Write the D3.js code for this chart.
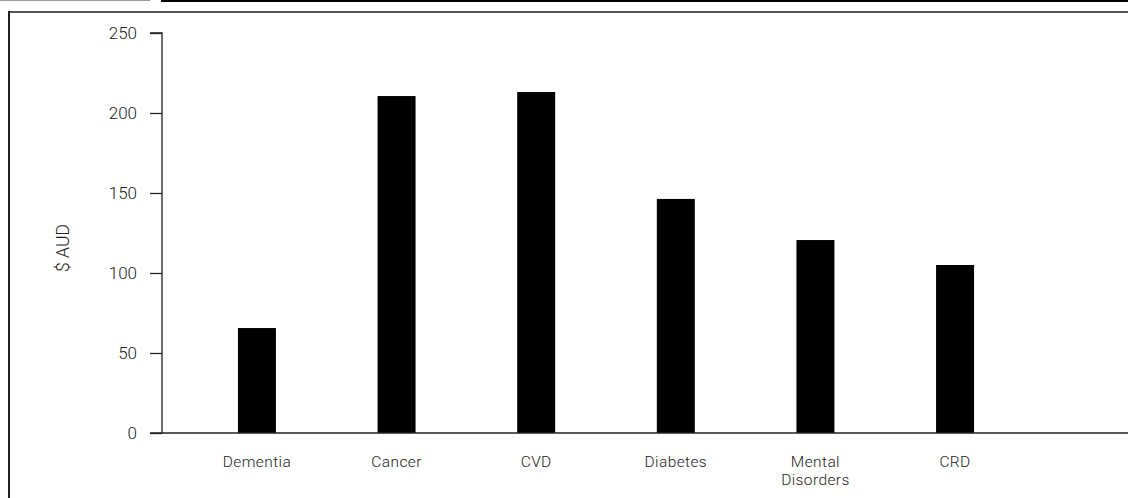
<!DOCTYPE html>
<html>
<head>
<meta charset="utf-8">
<script src="https://cdn.jsdelivr.net/npm/d3@7"></script>
<style>
  html, body { margin: 0; padding: 0; background: #fff; }
  svg { display: block; }
  text { font-family: Roboto, "Liberation Sans", Arial, sans-serif; font-weight: 300; }
</style>
</head>
<body>
<svg id="chart" width="1128" height="498"></svg>
<script>
const categories = ["Dementia", "Cancer", "CVD", "Diabetes", "Mental Disorders", "CRD"];
const categoryLines = [["Dementia"], ["Cancer"], ["CVD"], ["Diabetes"], ["Mental", "Disorders"], ["CRD"]];
const values = [65.6, 210.6, 213.1, 146.3, 120.6, 105.0];
const yTicks = [0, 50, 100, 150, 200, 250];
const yLabel = "$ AUD";

const svg = d3.select("#chart");

// frame decorations
svg.append("rect").attr("x", 0).attr("y", 0).attr("width", 150).attr("height", 1).attr("fill", "#999");
svg.append("rect").attr("x", 161).attr("y", 0).attr("width", 967).attr("height", 2).attr("fill", "#000");
svg.append("rect").attr("x", 8).attr("y", 11).attr("width", 1120).attr("height", 2).attr("fill", "#555");
svg.append("rect").attr("x", 8).attr("y", 11).attr("width", 2).attr("height", 487).attr("fill", "#222");

const x = d3.scaleBand().domain(categories).range([162, 1050]).paddingInner(0.728).paddingOuter(0.544);
const y = d3.scaleLinear().domain([0, 250]).range([433, 33]);

// bars
svg.append("g").selectAll("rect").data(values).join("rect")
  .attr("x", (d, i) => x(categories[i]))
  .attr("width", x.bandwidth())
  .attr("y", d => y(d))
  .attr("height", d => y(0) - y(d))
  .attr("fill", "#000");

// y axis
const yAxis = svg.append("g").attr("transform", "translate(162,0)")
  .call(d3.axisLeft(y).tickValues(yTicks).tickSize(12).tickPadding(13).tickFormat(d3.format("d")));
yAxis.selectAll("path, line").attr("stroke", "#222").attr("stroke-width", 1.3);
yAxis.select(".domain").attr("d", "M0," + y(0) + "V" + y(250) + "H-12");
yAxis.selectAll("text").attr("font-size", 17).attr("fill", "#222")
  .attr("font-family", "Roboto, 'Liberation Sans', Arial, sans-serif").attr("font-weight", 300);

// x axis line
svg.append("line").attr("x1", 150).attr("x2", 1128).attr("y1", y(0)).attr("y2", y(0))
  .attr("stroke", "#222").attr("stroke-width", 1.3);

// x labels
const xl = svg.append("g").selectAll("text").data(categories).join("text")
  .attr("x", d => x(d) + x.bandwidth() / 2)
  .attr("y", 467)
  .attr("text-anchor", "middle")
  .attr("font-size", 15.5)
  .attr("letter-spacing", "0.4px")
  .attr("fill", "#222");
xl.each(function(d, i) {
  const t = d3.select(this);
  categoryLines[i].forEach((line, j) => {
    t.append("tspan").attr("x", x(d) + x.bandwidth() / 2).attr("dy", j === 0 ? 0 : 18).text(line);
  });
});

// y label
svg.append("text")
  .attr("transform", "translate(69,248) rotate(-90)")
  .attr("text-anchor", "middle")
  .attr("font-size", 17.5)
  .attr("fill", "#222")
  .text(yLabel);
</script>
</body>
</html>
